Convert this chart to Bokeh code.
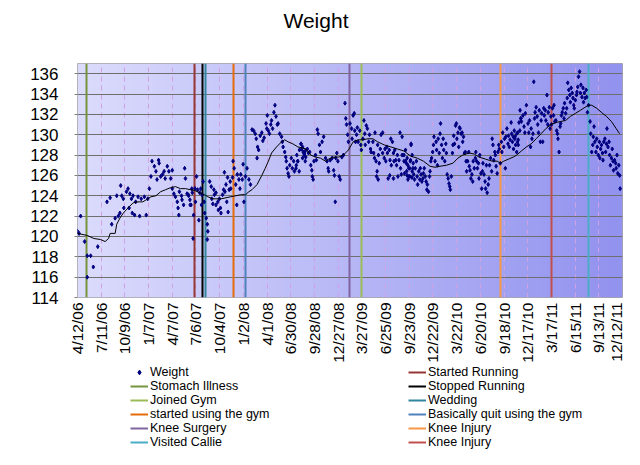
import numpy as np
from bokeh.plotting import figure
from bokeh.layouts import column
from bokeh.models import FixedTicker, Legend, LegendItem, Range1d
from bokeh.embed import file_html
from bokeh.resources import INLINE

# ---------------- data (x = days since 4/12/06, y = weight in lb) ----------------
tick_labels = ["4/12/06", "7/11/06", "10/9/06", "1/7/07", "4/7/07", "7/6/07", "10/4/07",
               "1/2/08", "4/1/08", "6/30/08", "9/28/08", "12/27/08", "3/27/09", "6/25/09",
               "9/23/09", "12/22/09", "3/22/10", "6/20/10", "9/18/10", "12/17/10",
               "3/17/11", "6/15/11", "9/13/11", "12/12/11"]
tick_step_days = 90
y_ticks = [114, 116, 118, 120, 122, 124, 126, 128, 130, 132, 134, 136]

weights_2006_07 = [(0,120.5),(6,120.3),(12,122.0),(27,119.5),(37,118.1),(50,118.1),(37,116.0),(60,117.0),
    (77,119.0),(112,123.4),(124,123.8),(130,121.2),(143,121.8),(149,124.0),(155,122.0),(164,125.0),
    (161,122.3),(168,124.0),(174,123.7),(176,122.8),(186,124.4),(192,124.7),(196,122.8),(199,124.2),
    (205,123.7),(208,122.3),(211,124.0),(217,122.1),(221,123.4),(230,123.9),(236,122.0),(242,123.7),
    (254,123.9),(261,122.1),(267,123.7),(273,124.7),(279,125.9),(283,127.4),(292,126.9),(298,126.4),
    (302,125.6),(308,127.5),(310,127.2),(316,125.9),(323,126.1),(329,126.4),(333,125.7),(341,126.9),
    (347,126.4),(354,125.7),(360,126.5),(360,124.7),(366,124.2),(372,123.9),(379,123.4),(382,122.8),
    (385,122.1),(387,124.4),(395,124.0),(397,123.6),(403,123.1),(407,126.7),(410,125.7),(416,124.2),
    (422,124.0),(428,123.1),(434,124.7),(441,122.1),(439,119.8)]
weights_2007_08 = [(421,124.1),(427,123.6),(431,123.1),(436,124.3),(446,124.7),(448,123.4),(452,125.9),
    (456,124.6),(461,121.6),(464,124.3),(468,124.7),(471,123.1),(473,124.1),(477,125.4),(481,123.4),
    (483,122.3),(489,121.8),(493,121.2),(495,120.5),(493,119.7),(502,125.4),(508,124.9),(510,123.7),
    (514,123.2),(518,124.6),(520,124.1),(526,124.3),(526,123.1),(533,123.4),(535,122.6),(539,123.7),
    (543,122.8),(545,122.3),(551,124.1),(555,124.6),(558,126.3),(560,124.4),(564,125.1),(567,123.4),
    (570,125.8),(572,122.4),(576,124.6),(580,125.4),(582,124.7),(589,125.8),(591,127.4),(595,126.7),
    (601,125.1),(605,123.1),(607,126.1),(613,125.6),(617,124.7),(620,126.1),(626,125.6),(629,127.1),
    (632,123.4),(638,125.9),(644,126.7),(651,125.6),(657,125.1),(663,130.5),(669,130.4),(675,130.1),
    (679,129.6),(684,128.8),(688,128.5),(682,127.7),(694,129.9),(700,130.2),(704,129.4),(709,129.7),
    (716,131.1),(719,130.6),(721,131.9),(725,130.4),(729,130.1),(734,131.0),(737,131.4),(741,130.6),
    (746,132.2),(750,132.9),(754,131.8),(759,131.0),(762,131.1),(768,130.1),(775,129.8),(778,129.3),
    (781,128.8),(787,128.3),(791,127.8),(793,127.4),(796,126.7),(800,126.2),(803,125.9),(806,127.0),
    (812,127.7),(816,126.7),(821,127.4),(824,126.4),(831,127.0),(833,128.0),(837,127.4),(843,128.5),
    (849,129.1),(855,128.8),(862,128.1),(865,128.4)]
weights_2008_09 = [(830,126.7),(836,127.4),(842,126.4),(849,129.1),(852,128.6),(855,127.7),(857,128.3),
    (861,128.0),(865,127.4),(867,127.8),(873,128.6),(877,128.2),(882,128.3),(886,127.0),(890,126.5),
    (892,125.9),(895,125.6),(898,127.4),(904,128.0),(907,127.5),(911,130.5),(914,130.1),(919,129.0),
    (923,128.3),(929,129.3),(935,129.8),(942,127.7),(948,127.4),(952,126.7),(954,126.4),(960,127.5),
    (967,127.7),(973,126.5),(976,126.0),(979,123.4),(981,127.7),(985,128.2),(989,127.4),(994,125.9),
    (998,125.6),(1004,127.8),(1010,128.0),(1016,133.1),(1019,131.6),(1022,131.0),(1026,130.0),
    (1029,129.3),(1035,131.1),(1041,130.6),(1043,129.6),(1047,131.9),(1051,132.1),(1053,130.4),
    (1056,129.3),(1060,130.0),(1063,130.7),(1066,129.3),(1072,130.4),(1076,129.0),(1078,128.5),
    (1084,129.6),(1088,131.4),(1091,130.1),(1093,129.0),(1097,130.9),(1101,130.6),(1106,129.3),
    (1109,130.0),(1113,128.6),(1115,128.3),(1122,129.3),(1125,128.2),(1128,127.7),(1130,130.2),
    (1134,127.4),(1138,126.4),(1140,129.0),(1143,128.0),(1146,127.2),(1150,128.6),(1153,130.0),
    (1159,130.2),(1159,128.2),(1165,127.7),(1168,128.6),(1171,127.4),(1175,128.8),(1177,128.2),
    (1180,125.7),(1184,128.5),(1187,127.5),(1190,129.6),(1192,127.0),(1196,129.3),(1200,128.2),
    (1202,127.4),(1205,128.5),(1209,127.5),(1212,127.0),(1215,128.0),(1217,125.9),(1221,127.5),
    (1225,130.2),(1227,126.7),(1233,129.8),(1233,128.0),(1240,127.4),(1242,126.2),(1246,128.5),
    (1249,127.2),(1252,126.0),(1258,126.7),(1262,125.9),(1264,127.4),(1267,129.0),(1271,128.0),
    (1274,126.7),(1136,125.9),(1142,125.6),(1186,126.0),(1200,125.7),(1230,126.1),(1255,125.6),
    (1270,125.8)]
weights_2009_10 = [(1240,128.0),(1246,127.4),(1250,126.4),(1252,127.7),(1255,127.0),(1259,125.9),
    (1262,126.7),(1265,127.5),(1267,129.1),(1271,126.4),(1275,127.2),(1277,126.1),(1280,125.6),
    (1283,126.7),(1287,127.4),(1290,125.9),(1292,125.1),(1296,126.4),(1300,125.6),(1302,126.7),
    (1305,126.1),(1308,125.4),(1312,125.7),(1314,126.2),(1317,126.7),(1321,125.9),(1324,125.4),
    (1327,124.6),(1329,125.1),(1333,124.4),(1337,125.9),(1339,126.4),(1342,127.4),(1345,127.7),
    (1349,128.3),(1352,129.0),(1354,129.8),(1358,127.4),(1362,129.3),(1364,128.5),(1367,127.0),
    (1370,129.6),(1374,128.2),(1377,130.1),(1379,131.1),(1383,129.0),(1386,127.7),(1389,129.6),
    (1391,128.5),(1395,127.4),(1399,129.1),(1401,128.2),(1404,126.1),(1408,125.7),(1411,125.2),
    (1414,124.9),(1416,124.6),(1420,125.9),(1424,128.2),(1426,129.0),(1429,129.9),(1432,129.1),
    (1436,130.9),(1439,131.1),(1441,129.6),(1445,130.2),(1448,128.8),(1451,130.7),(1453,130.6),
    (1457,130.1),(1461,130.2),(1463,129.3),(1466,129.8),(1470,128.2),(1473,128.3),(1476,127.4),
    (1478,126.4),(1482,127.4),(1486,128.3),(1488,126.9),(1491,126.5),(1494,125.7),(1498,126.1),
    (1501,125.4),(1503,127.4),(1507,126.7),(1511,127.7),(1513,128.3),(1516,127.4),(1519,126.7),
    (1523,127.2),(1525,125.7),(1528,128.0),(1532,126.2),(1535,124.7),(1538,126.4),(1540,127.2),
    (1544,126.1),(1548,125.4),(1550,124.7),(1553,127.0),(1556,124.3),(1560,125.1),(1563,125.7),
    (1565,127.0),(1569,127.7),(1573,126.4),(1575,129.6),(1578,129.0),(1581,127.5),(1585,128.3),
    (1587,128.0),(1590,126.9),(1594,126.2),(1597,128.3),(1600,129.0),(1602,128.6),(1606,127.2),
    (1610,129.3),(1612,128.3),(1615,130.2),(1619,128.8),(1622,129.6),(1625,126.7),(1627,129.8),
    (1631,130.6),(1635,129.1),(1637,129.9),(1640,128.8),(1643,129.5),(1647,131.2),(1652,129.3),
    (1656,128.6),(1659,130.4),(1662,129.8),(1664,129.0),(1668,128.3),(1672,130.2),(1674,129.5),
    (1677,131.2),(1681,132.4),(1684,131.6)]
weights_2010_11 = [(1649,130.1),(1655,129.8),(1661,129.6),(1668,130.1),(1671,129.3),(1674,129.0),
    (1680,130.4),(1684,131.6),(1686,131.3),(1692,131.9),(1696,130.8),(1699,130.2),(1701,132.1),
    (1705,132.9),(1711,131.1),(1714,130.2),(1717,131.4),(1721,128.8),(1723,130.6),(1726,129.6),
    (1730,130.1),(1733,135.2),(1736,131.6),(1738,132.2),(1742,132.7),(1746,131.8),(1748,131.0),
    (1751,130.2),(1754,132.4),(1758,129.3),(1761,131.4),(1763,132.1),(1767,129.3),(1771,132.6),
    (1773,131.9),(1777,132.4),(1779,131.4),(1783,133.9),(1786,131.0),(1788,132.2),(1792,132.7),
    (1795,130.6),(1798,131.8),(1800,131.0),(1804,132.6),(1808,131.9),(1810,132.9),(1813,131.3),
    (1817,131.4),(1820,130.4),(1823,130.1),(1825,129.6),(1829,128.3),(1833,130.8),(1835,131.1),
    (1838,131.9),(1841,132.2),(1845,132.6),(1848,131.6),(1850,133.1),(1854,132.1),(1858,132.6),
    (1860,133.6),(1862,135.1),(1866,134.4),(1870,133.9),(1872,133.2),(1875,134.6),(1879,134.1),
    (1882,133.6),(1885,132.9),(1887,132.6),(1891,133.4),(1895,133.9),(1897,134.2),(1900,134.7),
    (1903,135.7),(1907,136.2),(1910,134.1),(1912,134.9),(1916,133.7),(1920,134.6),(1922,133.2),
    (1925,134.1),(1928,133.6),(1932,134.4),(1934,133.7),(1937,132.2),(1941,132.9),(1947,131.3),
    (1949,130.1),(1953,128.3),(1957,129.0),(1959,129.8),(1962,130.8),(1965,129.3),(1969,128.3),
    (1972,129.6),(1974,128.8),(1978,128.0),(1982,129.3),(1984,127.7),(1987,128.6),(1990,129.0),
    (1994,128.2),(1996,127.5),(1999,129.3),(2003,129.6),(2006,128.3),(2009,129.1),(2011,130.6),
    (2015,128.8),(2019,129.3),(2021,128.0),(2024,127.0),(2028,127.7),(2031,128.6),(2034,127.4),
    (2036,126.5),(2040,127.5),(2044,127.2),(2046,126.7),(2049,128.0),(2052,126.2),(2056,127.0),
    (2059,126.0),(2061,124.7)]

trend_days = [0, 37, 62, 87, 105, 118, 124, 143, 149, 161, 174, 192, 211, 230, 248, 261, 279, 298,
    316, 335, 354, 372, 391, 410, 428, 447, 464, 483, 495, 514, 545, 582, 620, 638, 651, 663, 682,
    700, 713, 725, 737, 756, 775, 787, 800, 818, 837, 855, 868, 886, 904, 923, 942, 954, 973, 991,
    1010, 1029, 1047, 1066, 1084, 1103, 1122, 1140, 1165, 1190, 1215, 1240, 1265, 1290, 1314, 1339,
    1358, 1377, 1401, 1426, 1445, 1463, 1488, 1507, 1525, 1550, 1575, 1594, 1606, 1619, 1637, 1655,
    1668, 1686, 1705, 1723, 1742, 1761, 1779, 1798, 1817, 1835, 1854, 1872, 1891, 1910, 1928, 1941,
    1953, 1972, 1990, 2009, 2028, 2046, 2059]
trend_lb = [120.3, 120.1, 119.8, 119.7, 119.5, 119.8, 120.3, 120.3, 121.2, 121.8, 122.3, 122.8, 123.3,
    123.4, 123.4, 123.6, 123.9, 124.0, 124.4, 124.6, 124.8, 124.9, 124.7, 124.7, 124.6, 124.5, 124.3,
    124.1, 123.9, 123.7, 123.7, 123.9, 124.1, 124.1, 124.4, 124.6, 125.1, 126.0, 126.7, 127.4, 128.2,
    128.8, 129.3, 129.5, 129.3, 129.1, 128.8, 128.7, 128.6, 128.0, 127.8, 127.7, 127.4, 127.6, 127.8,
    127.8, 128.0, 128.5, 129.3, 129.5, 129.5, 129.6, 129.6, 129.3, 129.0, 128.8, 128.6, 128.4, 127.9,
    127.7, 127.4, 126.9, 126.8, 126.9, 127.0, 127.2, 127.7, 128.0, 128.2, 128.1, 127.8, 127.6, 127.4,
    127.4, 127.2, 127.4, 127.6, 127.8, 128.0, 128.4, 128.8, 129.1, 129.6, 130.1, 130.6, 131.0, 131.2,
    131.3, 131.4, 131.8, 132.1, 132.4, 132.7, 132.9, 132.9, 132.6, 132.2, 131.8, 131.3, 130.6, 130.1]

event_names = ["Started Running", "Stomach Illness", "Stopped Running", "Joined Gym", "Wedding",
               "started using the gym", "Basically quit using the gym", "Knee Surgery",
               "Knee Injury", "Visited Callie", "Knee Injury"]
event_days = [443, 36, 473, 1080, 488, 594, 639, 1034, 1608, 1942, 1802]
event_colors = ["#953735", "#77933C", "#000000", "#9BBB59", "#31859C", "#E46C0A", "#4F81BD",
                "#8064A2", "#F79646", "#4BACC6", "#C0504D"]

# ---------------- figure ----------------
all_weights = weights_2006_07 + weights_2007_08 + weights_2008_09 + weights_2009_10 + weights_2010_11
w_days = [d for d, _ in all_weights]
w_lb = [v for _, v in all_weights]

x_end = tick_step_days * (len(tick_labels) - 1)
y_start, y_end = 114, 137
tick_days = [tick_step_days * i for i in range(len(tick_labels))]

FONT = "Liberation Sans"
W = 624
H_TITLE = 46
H_MAIN = 319
H_LEG = 84
BL, BR = 77, 2   # same left/right borders for all stacked figures

# --- title strip ---
pt = figure(width=W, height=H_TITLE, x_range=Range1d(0, 1), y_range=Range1d(0, 1),
            x_axis_type=None, y_axis_type=None, output_backend="svg", toolbar_location=None,
            min_border_left=BL, min_border_right=BR, min_border_top=0, min_border_bottom=0)
pt.outline_line_color = None
pt.background_fill_color = "#ffffff"
pt.border_fill_color = "#ffffff"
pt.title.text = "Weight"
pt.title.align = "left"
pt.title.offset = 206
pt.title.vertical_align = "top"
pt.title.standoff = 16
pt.title.text_font = FONT
pt.title.text_font_size = "21px"
pt.title.text_font_style = "normal"
pt.title.text_color = "#000000"

# --- main chart ---
p = figure(width=W, height=H_MAIN, x_range=Range1d(0, x_end), y_range=Range1d(y_start, y_end),
           output_backend="svg", toolbar_location=None,
           min_border_left=BL, min_border_right=BR, min_border_top=17, min_border_bottom=67)
p.background_fill_color = "#ffffff"
p.border_fill_color = "#ffffff"
p.outline_line_color = "#a6a6a6"

# horizontal gradient background of the plot area
n = 256
t = np.linspace(0.0, 1.0, n)
c0 = np.array([220.0, 220.0, 253.0])
c1 = np.array([146.0, 146.0, 239.0])
rgb = c0[None, :] + (c1 - c0)[None, :] * t[:, None]
img = np.zeros((1, n), dtype=np.uint32)
view = img.view(dtype=np.uint8).reshape((1, n, 4))
view[0, :, 0] = rgb[:, 0].astype(np.uint8)
view[0, :, 1] = rgb[:, 1].astype(np.uint8)
view[0, :, 2] = rgb[:, 2].astype(np.uint8)
view[0, :, 3] = 255
p.image_rgba(image=[img], x=0, y=y_start, dw=x_end, dh=y_end - y_start, level="image")

# axes
p.xaxis.ticker = FixedTicker(ticks=tick_days)
p.xaxis.major_label_overrides = {d: lab for d, lab in zip(tick_days, tick_labels)}
p.xaxis.major_label_orientation = np.pi / 2
p.xaxis.major_label_text_font = FONT
p.xaxis.major_label_text_font_size = "15.5px"
p.xaxis.major_label_text_color = "#000000"
p.xaxis.major_label_standoff = 5
p.xaxis.major_tick_out = 0
p.xaxis.major_tick_in = 0
p.xaxis.minor_tick_out = 0
p.xaxis.minor_tick_in = 0
p.xaxis.axis_line_color = None

p.yaxis.ticker = FixedTicker(ticks=y_ticks)
p.yaxis.major_label_text_font = FONT
p.yaxis.major_label_text_font_size = "17px"
p.yaxis.major_label_text_color = "#000000"
p.yaxis.major_label_standoff = 16
p.yaxis.major_tick_out = 3
p.yaxis.major_tick_in = 0
p.yaxis.major_tick_line_color = "#808080"
p.yaxis.minor_tick_out = 0
p.yaxis.minor_tick_in = 0
p.yaxis.axis_line_color = None

p.xgrid.grid_line_color = "#cfa3e3"
p.xgrid.grid_line_dash = "5 4"
p.xgrid.grid_line_width = 1
p.ygrid.grid_line_color = "#6f6f6f"
p.ygrid.grid_line_width = 1

# event lines
for day, color in zip(event_days, event_colors):
    p.vspan(x=[day], line_color=color, line_width=2)

# weights and trend
p.scatter(w_days, w_lb, marker="diamond", size=4, fill_color="#000080", line_color="#000080")
p.line(trend_days, trend_lb, line_color="#000000", line_width=1)

# --- legend strip below the chart ---
pl = figure(width=W, height=H_LEG, x_range=Range1d(0, 1), y_range=Range1d(0, 1),
            x_axis_type=None, y_axis_type=None, output_backend="svg", toolbar_location=None,
            min_border_left=BL, min_border_right=BR, min_border_top=0, min_border_bottom=0)
pl.outline_line_color = None
pl.background_fill_color = "#ffffff"
pl.border_fill_color = "#ffffff"

# legend proxies: the same data, lying outside this strip's (0..1) view
sc_leg = pl.scatter(x=w_days[-1:], y=w_lb[-1:], marker="diamond", size=4,
                    fill_color="#000080", line_color="#000080")
items = [LegendItem(label="Weight", renderers=[sc_leg])]
for name, day, color in zip(event_names, event_days, event_colors):
    r = pl.line(x=[day, day], y=[y_start, y_end], line_color=color, line_width=2)
    items.append(LegendItem(label=name, renderers=[r]))

legend = Legend(items=items, orientation="horizontal", ncols=2, location=(53, 0),
                label_text_font=FONT, label_text_font_size="12.5px", label_text_color="#000000",
                glyph_width=18, glyph_height=12, label_height=12, label_width=258,
                label_standoff=2, spacing=0, padding=0, margin=0,
                border_line_color=None, background_fill_alpha=0)
pl.add_layout(legend, "center")

layout = column(pt, p, pl, spacing=0)
open("out.html", "w").write(file_html(layout, INLINE))
